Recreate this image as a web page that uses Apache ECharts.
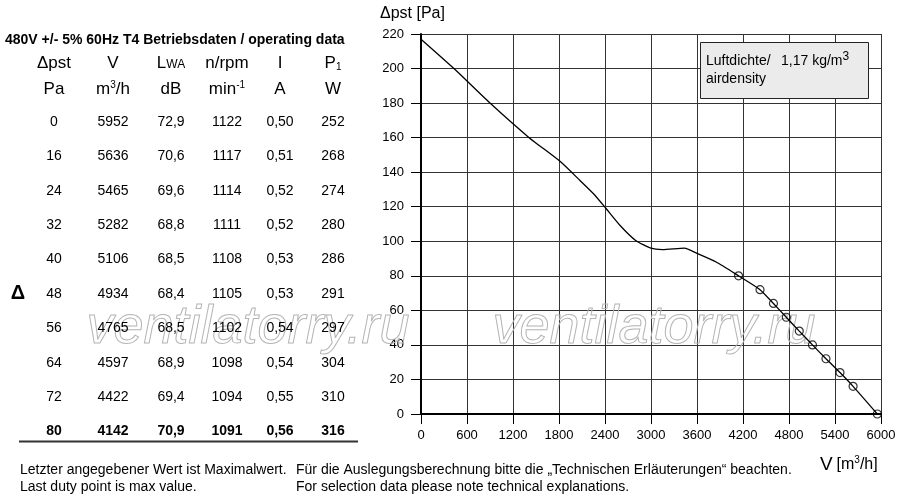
<!DOCTYPE html>
<html lang="de">
    <head>
        <meta charset="UTF-8" />
        <title>Kennlinie</title>
        <script src="https://cdn.jsdelivr.net/npm/echarts@6/dist/echarts.min.js"></script>
        <style>
            html, body { margin: 0; padding: 0; background: #fff; }
            #chart { width: 900px; height: 500px; }
        </style>
    </head>

    <body>
        <div id="chart"></div>

        <script>
            // Betriebsdaten (Tabelle)
            var dpPa = [0, 16, 24, 32, 40, 48, 56, 64, 72, 80];
            var flow = [5952, 5636, 5465, 5282, 5106, 4934, 4765, 4597, 4422, 4142];
            var lwa = ['72,9', '70,6', '69,6', '68,8', '68,5', '68,4', '68,5', '68,9', '69,4', '70,9'];
            var rpm = [1122, 1117, 1114, 1111, 1108, 1105, 1102, 1098, 1094, 1091];
            var amps = ['0,50', '0,51', '0,52', '0,52', '0,53', '0,53', '0,54', '0,54', '0,55', '0,56'];
            var watts = [252, 268, 274, 280, 286, 291, 297, 304, 310, 316];

            // Kennlinie oberhalb des letzten Betriebspunkts
            var curveV = [0, 430, 900, 1410, 1813, 2074, 2250, 2400, 2600, 2800, 3000, 3150, 3435, 3600, 3850];
            var curveP = [217, 200, 180, 160, 146.3, 135.2, 127.5, 119.7, 109, 100.5, 96, 95.2, 96, 93, 88];

            var headTop = ['{n|Δpst}', '{n|V}', '{n|L}{s|WA}', '{n|n/rpm}', '{n|I}', '{n|P}{sub|1}'];
            var headUnit = ['{n|Pa}', '{n|m}{sup|3}{n|/h}', '{n|dB}', '{n|min}{sup|-1}', '{n|A}', '{n|W}'];

            var FONT = '"Liberation Sans", Arial, sans-serif';
            var colX = [54, 113, 171, 227, 280, 333];

            var lineData = [];
            curveV.forEach(function (v, i) {
                lineData.push([v, curveP[i]]);
            });
            for (var k = flow.length - 1; k >= 0; k--) {
                lineData.push([flow[k], dpPa[k]]);
            }
            var pointData = flow.map(function (v, i) {
                return [v, dpPa[i]];
            });

            var headRich = {
                n: { fontSize: 17, fontFamily: FONT, color: '#000' },
                s: { fontSize: 12, fontFamily: FONT, color: '#000', padding: [4, 0, 0, 0] },
                sup: { fontSize: 10, fontFamily: FONT, color: '#000', padding: [0, 0, 8, 0] },
                sub: { fontSize: 10, fontFamily: FONT, color: '#000', padding: [8, 0, 0, 0] }
            };

            function txt(x, y, text, opts) {
                opts = opts || {};
                return {
                    type: 'text',
                    x: x,
                    y: y,
                    z: 10,
                    style: {
                        text: text,
                        fill: '#000',
                        fontFamily: FONT,
                        fontSize: opts.size || 14,
                        fontWeight: opts.weight || 'normal',
                        align: opts.align || 'center',
                        verticalAlign: 'middle',
                        rich: opts.rich
                    }
                };
            }

            var graphic = [];

            // Wasserzeichen
            [248, 654].forEach(function (cx) {
                graphic.push({
                    type: 'text',
                    x: cx,
                    y: 328,
                    z: 1,
                    silent: true,
                    style: {
                        text: 'ventilatorry.ru',
                        fontFamily: FONT,
                        fontStyle: 'italic',
                        fontSize: 54,
                        fill: 'rgba(255,255,255,0)',
                        stroke: '#b4b4b4',
                        lineWidth: 1,
                        align: 'center',
                        verticalAlign: 'middle'
                    }
                });
            });

            graphic.push(txt(5, 40, '480V +/- 5% 60Hz T4 Betriebsdaten / operating data', { align: 'left', weight: 'bold' }));

            headTop.forEach(function (h, i) {
                graphic.push(txt(colX[i], 63, h, { rich: headRich }));
            });
            headUnit.forEach(function (h, i) {
                graphic.push(txt(colX[i], 89, h, { rich: headRich }));
            });

            dpPa.forEach(function (p, i) {
                var y = 122 + i * 34.4;
                var w = i === dpPa.length - 1 ? 'bold' : 'normal';
                var row = [p, flow[i], lwa[i], rpm[i], amps[i], watts[i]];
                row.forEach(function (val, j) {
                    graphic.push(txt(colX[j], y, String(val), { weight: w }));
                });
            });

            graphic.push(txt(18, 293, 'Δ', { weight: 'bold', size: 20 }));

            graphic.push({
                type: 'line',
                z: 10,
                shape: { x1: 19, y1: 441.5, x2: 358, y2: 441.5 },
                style: { stroke: '#333', lineWidth: 2 }
            });

            graphic.push(txt(20, 470, 'Letzter angegebener Wert ist Maximalwert.', { align: 'left' }));
            graphic.push(txt(20, 487, 'Last duty point is max value.', { align: 'left' }));
            graphic.push(txt(296, 470, 'Für die Auslegungsberechnung bitte die „Technischen Erläuterungen“ beachten.', { align: 'left' }));
            graphic.push(txt(296, 487, 'For selection data please note technical explanations.', { align: 'left' }));

            // Achsentitel
            graphic.push(txt(380, 14, 'Δpst [Pa]', { align: 'left', size: 16 }));
            graphic.push(txt(820, 465, '{v|V} {n|[m}{sup|3}{n|/h]}', {
                align: 'left',
                rich: {
                    v: { fontSize: 19, fontFamily: FONT, color: '#000' },
                    n: { fontSize: 16, fontFamily: FONT, color: '#000' },
                    sup: { fontSize: 10, fontFamily: FONT, color: '#000', padding: [0, 0, 9, 0] }
                }
            }));

            // Luftdichte-Kasten
            graphic.push({
                type: 'rect',
                z: 10,
                shape: { x: 700.5, y: 42.5, width: 168, height: 56 },
                style: { fill: '#ebebeb', stroke: '#222', lineWidth: 1 }
            });
            graphic.push(txt(706, 61, 'Luftdichte/', { align: 'left' }));
            graphic.push(txt(706, 79, 'airdensity', { align: 'left' }));
            graphic.push(txt(781, 61, '{n|1,17 kg/m}{sup|3}', {
                align: 'left',
                rich: {
                    n: { fontSize: 14, fontFamily: FONT, color: '#000' },
                    sup: { fontSize: 12, fontFamily: FONT, color: '#000', padding: [0, 0, 8, 0] }
                }
            }));

            var element = document.getElementById('chart');
            var myChart = echarts.init(element);

            var option = {
                animation: false,
                backgroundColor: '#fff',
                grid: { left: 421, right: 19, top: 34, bottom: 86 },
                xAxis: {
                    type: 'value',
                    min: 0,
                    max: 6000,
                    interval: 600,
                    axisLine: { lineStyle: { color: '#000', width: 2 } },
                    axisTick: { length: 10, lineStyle: { color: '#000' } },
                    axisLabel: {
                        color: '#000',
                        fontSize: 13,
                        fontFamily: FONT,
                        margin: 15,
                        formatter: function (v) {
                            return String(v);
                        }
                    },
                    splitLine: { show: true, lineStyle: { color: '#333', width: 1 } }
                },
                yAxis: {
                    type: 'value',
                    min: 0,
                    max: 220,
                    interval: 20,
                    axisLine: { lineStyle: { color: '#000', width: 2 } },
                    axisTick: { length: 10, lineStyle: { color: '#000' } },
                    axisLabel: { color: '#000', fontSize: 13, fontFamily: FONT, margin: 17 },
                    splitLine: { show: true, lineStyle: { color: '#333', width: 1 } }
                },
                series: [
                    {
                        type: 'line',
                        data: lineData,
                        smooth: 0.2,
                        symbol: 'none',
                        z: 3,
                        lineStyle: { color: '#000', width: 1.3 }
                    },
                    {
                        type: 'scatter',
                        data: pointData,
                        symbol: 'circle',
                        symbolSize: 8,
                        z: 4,
                        itemStyle: { color: 'rgba(0,0,0,0)', borderColor: '#000', borderWidth: 1.2 }
                    }
                ],
                graphic: graphic
            };
            myChart.setOption(option, true);
        </script>
    </body>
</html>
